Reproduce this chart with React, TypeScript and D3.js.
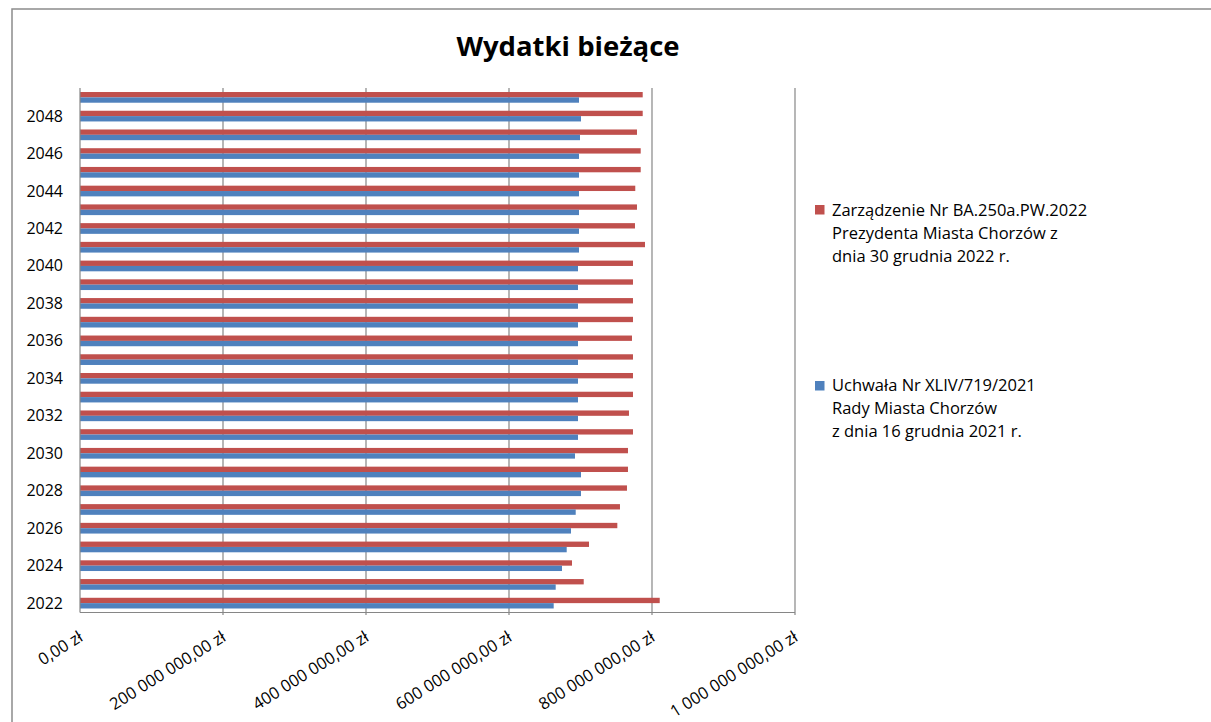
import React from "react";
import * as d3 from "d3";

const years = [2022,2023,2024,2025,2026,2027,2028,2029,2030,2031,2032,2033,2034,2035,2036,2037,2038,2039,2040,2041,2042,2043,2044,2045,2046,2047,2048,2049];
// Zarządzenie Nr BA.250a.PW.2022 (red), in zł
const zarzadzenie = [810.8,704.5,688.1,711.9,751.5,755.2,765.0,766.4,766.4,773.4,767.8,773.4,773.4,773.4,772.0,773.4,773.4,773.4,773.4,790.2,776.2,779.0,776.6,784.2,784.2,779.0,787.0,787.0].map(v => v * 1e6);
// Uchwała Nr XLIV/719/2021 (blue), in zł
const uchwala = [662.5,665.3,674.1,680.7,686.7,693.3,700.7,700.7,692.3,696.5,696.5,696.5,696.5,696.5,696.5,696.5,696.5,696.5,696.5,697.9,697.9,697.9,697.9,697.9,697.9,699.3,700.7,697.9].map(v => v * 1e6);
const xTicks = [0, 200e6, 400e6, 600e6, 800e6, 1000e6];
const yLabelYears = [2022,2024,2026,2028,2030,2032,2034,2036,2038,2040,2042,2044,2046,2048];
const legendRed = ["Zarządzenie Nr BA.250a.PW.2022", "Prezydenta Miasta Chorzów z", "dnia 30 grudnia 2022 r."];
const legendBlue = ["Uchwała Nr XLIV/719/2021", "Rady Miasta Chorzów", "z dnia 16 grudnia 2021 r."];

const RED = "#C0504D";
const BLUE = "#4F81BD";
const GRID = "#868686";
const FONT = "'Open Sans', sans-serif";

function fmt(v: number) {
  return d3.format(",.2f")(v).replace(/,/g, " ").replace(".", ",") + " zł";
}

export default function App() {
  const W = 1211, H = 722;
  const x = d3.scaleLinear().domain([0, 1e9]).range([80, 795]);
  const y = d3.scaleBand<number>().domain([...years].reverse()).range([88, 612.5]).padding(0);
  const sub = d3.scaleBand<string>().domain(["red", "blue"]).range([0, y.bandwidth()]).paddingInner(0).paddingOuter(0.75);

  return (
    <svg width={W} height={H} style={{ position: "absolute", left: 0, top: 0, background: "#fff" }} fontFamily={FONT}>
      <rect x={0} y={0} width={W} height={H} fill="#fff" />
      <rect x={12} y={9} width={W + 20} height={H + 20} fill="none" stroke="#8c8c8c" strokeWidth={1.5} />
      <text x={568} y={56} textAnchor="middle" fontSize={27.5} fontWeight="bold" fill="#000">Wydatki bieżące</text>

      {/* gridlines */}
      {xTicks.slice(1).map(t => (
        <line key={t} x1={x(t)} x2={x(t)} y1={88} y2={615} stroke={GRID} strokeWidth={1.2} />
      ))}
      {/* bars */}
      {years.map((yr, i) => (
        <g key={yr}>
          <rect x={x(0)} y={(y(yr) as number) + (sub("red") as number)} width={x(zarzadzenie[i]) - x(0)} height={sub.bandwidth()} fill={RED} />
          <rect x={x(0)} y={(y(yr) as number) + (sub("blue") as number)} width={x(uchwala[i]) - x(0)} height={sub.bandwidth()} fill={BLUE} />
        </g>
      ))}
      {/* axes */}
      <line x1={80} x2={80} y1={88} y2={612.5} stroke={GRID} strokeWidth={1.2} />
      <line x1={80} x2={795} y1={612.5} y2={612.5} stroke={GRID} strokeWidth={1.2} />

      {/* y labels */}
      {yLabelYears.map(yr => (
        <text key={yr} x={63} y={(y(yr) as number) + y.bandwidth() / 2 + 5.5} textAnchor="end" fontSize={16} fill="#000">{yr}</text>
      ))}
      {/* x labels */}
      {xTicks.map(t => (
        <text key={t} transform={`translate(${x(t) + 4},${640}) rotate(-32)`} textAnchor="end" fontSize={16.5} fill="#000">{fmt(t)}</text>
      ))}

      {/* legend */}
      <rect x={815} y={205} width={9.5} height={9.5} fill={RED} />
      {legendRed.map((s, i) => (
        <text key={s} x={832} y={216 + i * 23} fontSize={16.5} fill="#000">{s}</text>
      ))}
      <rect x={815} y={381} width={9.5} height={9.5} fill={BLUE} />
      {legendBlue.map((s, i) => (
        <text key={s} x={832} y={391 + i * 23} fontSize={16.5} fill="#000">{s}</text>
      ))}
    </svg>
  );
}
